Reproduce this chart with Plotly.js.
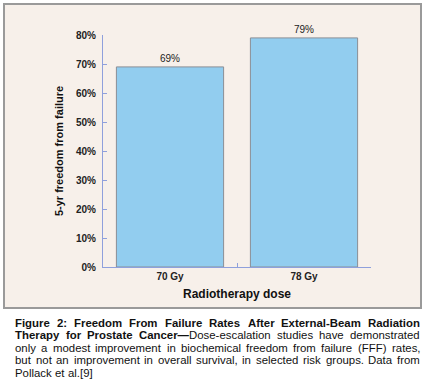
<!DOCTYPE html>
<html><head><meta charset="utf-8">
<script src="https://cdn.plot.ly/plotly-3.0.1.min.js"></script>
<style>html,body{margin:0;padding:0;background:#fff;}#chart{width:428px;height:385px;}</style>
</head><body><div id="chart"></div>
<script>
var categories = ['70 Gy', '78 Gy'];
var fffRates = [69, 79];
var barLabels = ['69%', '79%'];
var yTickVals = [0, 10, 20, 30, 40, 50, 60, 70, 80];
var yTickText = ['0%', '10%', '20%', '30%', '40%', '50%', '60%', '70%', '80%'];
var captionLines = [
  '<b>Figure 2: Freedom From Failure Rates After External-Beam Radiation</b>',
  '<b>Therapy for Prostate Cancer\u2014</b>Dose-escalation studies have demonstrated',
  'only a modest improvement in biochemical freedom from failure (FFF) rates,',
  'but not an improvement in overall survival, in selected risk groups. Data from',
  'Pollack et al.[9]'
];

var W = 428, H = 385, L = 103, R = 57, T = 35, B = 118;
var pw = W - L - R, ph = H - T - B;
function px(x){ return (x - L) / pw; }
function py(y){ return (H - B - y) / ph; }

var font = 'Liberation Sans, Arial, Helvetica, sans-serif';
var capSize = 11.4;
var trace = {
  type: 'bar', x: categories, y: fffRates, width: 0.8,
  text: barLabels, textposition: 'outside', cliponaxis: false,
  textfont: {family: font, size: 10, color: '#222'},
  marker: {color: '#92cdef', line: {color: '#8a8f96', width: 1}},
  hoverinfo: 'none'
};

// justified caption: split lines into words, measure, distribute
var ctx = document.createElement('canvas').getContext('2d');
function measureWord(w){
  var total = 0, bold = false;
  var parts = w.split(/(<\/?b>)/);
  parts.forEach(function(p){
    if (p === '<b>') { bold = true; return; }
    if (p === '</b>') { bold = false; return; }
    if (!p) return;
    ctx.font = (bold ? 'bold ' : '') + capSize + "px 'Liberation Sans'";
    total += ctx.measureText(p).width;
  });
  return total;
}
var annotations = [];
var capLeft = 13, capRight = 418;
captionLines.forEach(function(line, i){
  var y = py(322.7 + i * 12.5);
  var words = [], bold = false;
  line.split(' ').forEach(function(w){
    var startBold = bold;
    var opens = (w.match(/<b>/g) || []).length;
    var s = w;
    if (startBold) s = '<b>' + s;
    var endBold = startBold;
    if (opens) endBold = true;
    if (w.indexOf('</b>') >= 0) endBold = w.lastIndexOf('</b>') > w.lastIndexOf('<b>') ? false : endBold;
    if (endBold) s = s + '</b>';
    s = s.replace(/<b><b>/g, '<b>').replace(/<\/b><\/b>/g, '</b>').replace(/<b><\/b>/g, '');
    bold = endBold;
    words.push(s);
  });
  var widths = words.map(measureWord);
  var sum = widths.reduce(function(a, b){ return a + b; }, 0);
  var last = i === captionLines.length - 1;
  var gap = last ? measureWord(' ') : Math.max(1.5, (capRight - capLeft - sum) / (words.length - 1));
  var x = capLeft;
  words.forEach(function(w, k){
    annotations.push({xref: 'paper', yref: 'paper', x: px(x), y: y,
      xanchor: 'left', yanchor: 'middle', showarrow: false, align: 'left',
      text: w, font: {family: font, size: capSize, color: '#111'}});
    x += widths[k] + gap;
  });
});

var layout = {
  width: W, height: H,
  margin: {l: L, r: R, t: T, b: B, pad: 0},
  paper_bgcolor: '#ffffff', plot_bgcolor: 'rgba(0,0,0,0)',
  showlegend: false,
  bargap: 0.2,
  xaxis: {
    type: 'category', range: [-0.5, 1.5], showgrid: false, zeroline: false,
    showline: true, linecolor: '#8fa0dc', linewidth: 1,
    ticks: 'inside', ticklen: 4, tickcolor: '#8fa0dc', tickson: 'boundaries',
    tickfont: {family: font, size: 10, color: '#222', weight: 'bold'},
    title: {text: '<b>Radiotherapy dose</b>', font: {family: font, size: 12, color: '#111'}, standoff: 8}
  },
  yaxis: {
    range: [0, 80], showgrid: false, zeroline: false,
    showline: true, linecolor: '#8fa0dc', linewidth: 1,
    ticks: 'inside', ticklen: 4, tickcolor: '#8fa0dc',
    tickmode: 'array', tickvals: yTickVals, ticktext: yTickText,
    tickfont: {family: font, size: 10, color: '#222', weight: 'bold'},
    ticklabelstandoff: 4,
    title: {text: '<b>5-yr freedom from failure</b>', font: {family: font, size: 11, color: '#111'}, standoff: 10}
  },
  shapes: [{type: 'rect', xref: 'paper', yref: 'paper', layer: 'below',
    x0: px(4), x1: px(421), y0: py(308), y1: py(4),
    fillcolor: '#f7f0ea', line: {color: '#9a9a9a', width: 2}}],
  annotations: annotations
};

Plotly.newPlot('chart', [trace], layout, {staticPlot: true, displayModeBar: false});
</script></body></html>
